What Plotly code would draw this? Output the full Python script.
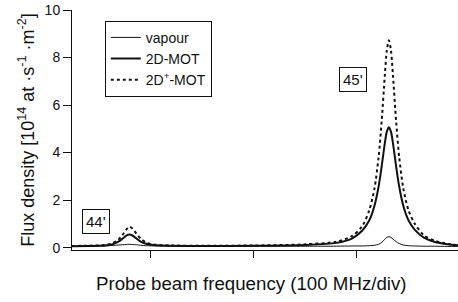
import plotly.graph_objects as go

# Probe frequency (arbitrary MHz units; ticks every 100 MHz)
freq = [23, 40, 55, 62, 68, 72, 76, 79, 82, 86, 90, 96, 105, 120, 150, 200, 250, 280, 295, 305,
        312, 317, 321, 324, 327, 329, 331, 333, 335, 338, 341, 345, 350, 356, 365, 375, 388, 398]

vapour = [0.05, 0.06, 0.07, 0.09, 0.11, 0.12, 0.13, 0.14, 0.13, 0.12, 0.10, 0.08, 0.07, 0.06, 0.06,
          0.06, 0.06, 0.06, 0.07, 0.07, 0.08, 0.10, 0.14, 0.22, 0.35, 0.43, 0.46, 0.43, 0.36, 0.25,
          0.17, 0.11, 0.08, 0.07, 0.06, 0.06, 0.05, 0.05]

mot2d = [0.06, 0.07, 0.09, 0.13, 0.24, 0.36, 0.50, 0.55, 0.51, 0.38, 0.25, 0.15, 0.10, 0.08, 0.07,
         0.08, 0.11, 0.20, 0.38, 0.71, 1.15, 1.76, 2.57, 3.43, 4.38, 4.88, 5.07, 4.88, 4.38, 3.43,
         2.57, 1.76, 1.15, 0.76, 0.42, 0.25, 0.14, 0.10]

mot2dplus = [0.07, 0.08, 0.11, 0.17, 0.32, 0.51, 0.76, 0.88, 0.80, 0.58, 0.38, 0.20, 0.12, 0.09, 0.08,
             0.09, 0.14, 0.25, 0.48, 0.90, 1.58, 2.49, 3.81, 5.33, 7.22, 8.30, 8.73, 8.30, 7.22, 5.33,
             3.81, 2.49, 1.58, 1.01, 0.52, 0.30, 0.16, 0.10]

x_ticks = [100, 200, 300]
y_ticks = [0, 2, 4, 6, 8, 10]

FONT = "Liberation Sans, Arial, sans-serif"

fig = go.Figure()
fig.add_trace(go.Scatter(x=freq, y=vapour, mode="lines", name="vapour",
                         line=dict(color="#111", width=1, shape="spline", smoothing=0.8)))
fig.add_trace(go.Scatter(x=freq, y=mot2d, mode="lines", name="2D-MOT",
                         line=dict(color="#111", width=2, shape="spline", smoothing=0.8)))
fig.add_trace(go.Scatter(x=freq, y=mot2dplus, mode="lines", name="2D<sup>+</sup>-MOT",
                         line=dict(color="#111", width=2, dash="dot", shape="spline", smoothing=0.8)))

fig.update_layout(
    width=458, height=302,
    margin=dict(l=72, r=0, t=10, b=52, autoexpand=False),
    paper_bgcolor="white", plot_bgcolor="white",
    font=dict(family=FONT, color="#111", size=14),
    showlegend=True,
    legend=dict(x=0.085, y=0.955, xanchor="left", yanchor="top",
                bordercolor="#111", borderwidth=1, bgcolor="white",
                font=dict(size=14), tracegroupgap=0),
    xaxis=dict(range=[23.3, 398.1], tickvals=x_ticks, showticklabels=False,
               ticks="outside", ticklen=7, tickcolor="#111",
               showline=True, linecolor="#111", linewidth=1,
               showgrid=False, zeroline=False, automargin=False),
    yaxis=dict(range=[-0.1, 10], tickvals=y_ticks,
               ticks="outside", ticklen=8, tickcolor="#111",
               showline=True, linecolor="#111", linewidth=1,
               showgrid=False, zeroline=False, automargin=False,
               tickfont=dict(size=14),
               title=dict(text="Flux density [10<sup>14</sup> at ·s<sup>-1</sup> ·m<sup>-2</sup>]",
                          font=dict(size=18), standoff=5)),
    annotations=[
        dict(x=0.466, y=-0.1375, xref="paper", yref="paper", xanchor="center", yanchor="middle",
             text="Probe beam frequency (100 MHz/div)", showarrow=False,
             font=dict(size=18.7)),
        dict(x=46.6, y=1.1, xref="x", yref="y", text="44'", showarrow=False,
             font=dict(size=15), bordercolor="#111", borderwidth=1, borderpad=3, bgcolor="white"),
        dict(x=296.1, y=7.06, xref="x", yref="y", text="45'", showarrow=False,
             font=dict(size=15), bordercolor="#111", borderwidth=1, borderpad=3, bgcolor="white"),
    ],
)

fig.write_html("out.html", config={"displayModeBar": False},
               post_script="document.body.style.margin='0';document.body.style.overflow='hidden';")
